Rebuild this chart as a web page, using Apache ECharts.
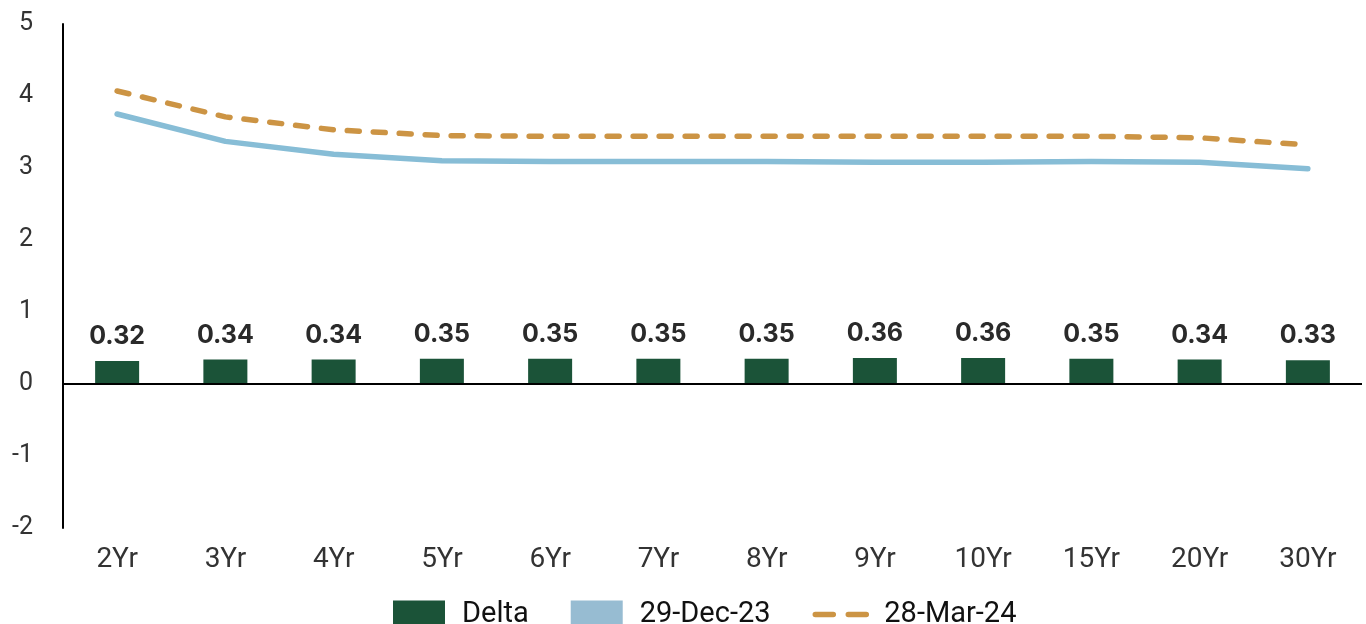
<!DOCTYPE html>
<html>
<head>
<meta charset="utf-8">
<script src="https://cdn.jsdelivr.net/npm/echarts@6/dist/echarts.min.js"></script>
<style>
  html, body { margin: 0; padding: 0; background: #fff; }
  #chart { width: 1366px; height: 624px; }
</style>
</head>
<body>
<div id="chart"></div>
<script>
// Tenors on the curve
const categories = ['2Yr', '3Yr', '4Yr', '5Yr', '6Yr', '7Yr', '8Yr', '9Yr', '10Yr', '15Yr', '20Yr', '30Yr'];
// Change between the two curve dates
const delta = [0.32, 0.34, 0.34, 0.35, 0.35, 0.35, 0.35, 0.36, 0.36, 0.35, 0.34, 0.33];
// Yield curve on 29-Dec-23
const dec23 = [3.75, 3.37, 3.19, 3.10, 3.09, 3.09, 3.09, 3.08, 3.08, 3.09, 3.08, 2.99];
// Yield curve on 28-Mar-24
const mar24 = [4.07, 3.71, 3.53, 3.45, 3.44, 3.44, 3.44, 3.44, 3.44, 3.44, 3.42, 3.32];
const seriesNames = ['Delta', '29-Dec-23', '28-Mar-24'];

const FONT = 'Inter, "Noto Sans", sans-serif';
const AXIS_FONT = 'Roboto, "Liberation Sans", sans-serif';
const GREEN = '#1b5338';
const BLUE = '#87bdd6';
const ORANGE = '#cc9444';

const chart = echarts.init(document.getElementById('chart'), null, { renderer: 'canvas' });
chart.setOption({
  animation: false,
  textStyle: { fontFamily: FONT },
  grid: { left: 63, right: 4, top: 24, bottom: 96, containLabel: false },
  legend: {
    top: 600,
    left: 393,
    padding: 0,
    itemWidth: 52,
    itemHeight: 28,
    itemGap: 42,
    textStyle: { fontSize: 29, color: '#111', fontFamily: AXIS_FONT, padding: [0, 0, 0, 12] },
    data: [
      { name: seriesNames[0], icon: 'rect' },
      { name: seriesNames[1], icon: 'rect', itemStyle: { color: '#97bcd2' } },
      {
        name: seriesNames[2],
        itemStyle: { opacity: 0 },
        lineStyle: { color: ORANGE, width: 5.5, type: [18, 15], cap: 'round' }
      }
    ]
  },
  xAxis: {
    type: 'category',
    data: categories,
    axisLine: { show: true, onZero: false, lineStyle: { color: 'transparent' } },
    axisTick: { show: false },
    axisLabel: { fontSize: 28, color: '#333', margin: 18, fontFamily: AXIS_FONT }
  },
  yAxis: {
    type: 'value',
    min: -2,
    max: 5,
    interval: 1,
    axisLine: { show: true, lineStyle: { color: '#000', width: 2 } },
    axisTick: { show: false },
    splitLine: { show: false },
    axisLabel: { fontSize: 25, color: '#333', margin: 30, fontFamily: AXIS_FONT }
  },
  series: [
    {
      name: seriesNames[0],
      type: 'bar',
      data: delta,
      barWidth: 44,
      itemStyle: { color: GREEN },
      label: {
        show: true,
        position: 'top',
        distance: 12,
        fontSize: 25,
        fontWeight: 'bold',
        color: '#2a2a2a',
        fontFamily: FONT,
        formatter: p => p.value.toFixed(2)
      },
      markLine: {
        silent: true,
        symbol: 'none',
        label: { show: false },
        lineStyle: { color: '#000', width: 2, type: 'solid' },
        data: [{ yAxis: 0 }]
      },
      z: 2
    },
    {
      name: seriesNames[1],
      type: 'line',
      data: dec23,
      symbol: 'none',
      lineStyle: { color: BLUE, width: 5.5, cap: 'round', join: 'round' },
      itemStyle: { color: BLUE },
      z: 3
    },
    {
      name: seriesNames[2],
      type: 'line',
      data: mar24,
      symbol: 'none',
      lineStyle: { color: ORANGE, width: 5.5, type: [12, 14], cap: 'round', join: 'round' },
      itemStyle: { color: ORANGE },
      z: 4
    }
  ]
});
</script>
</body>
</html>
